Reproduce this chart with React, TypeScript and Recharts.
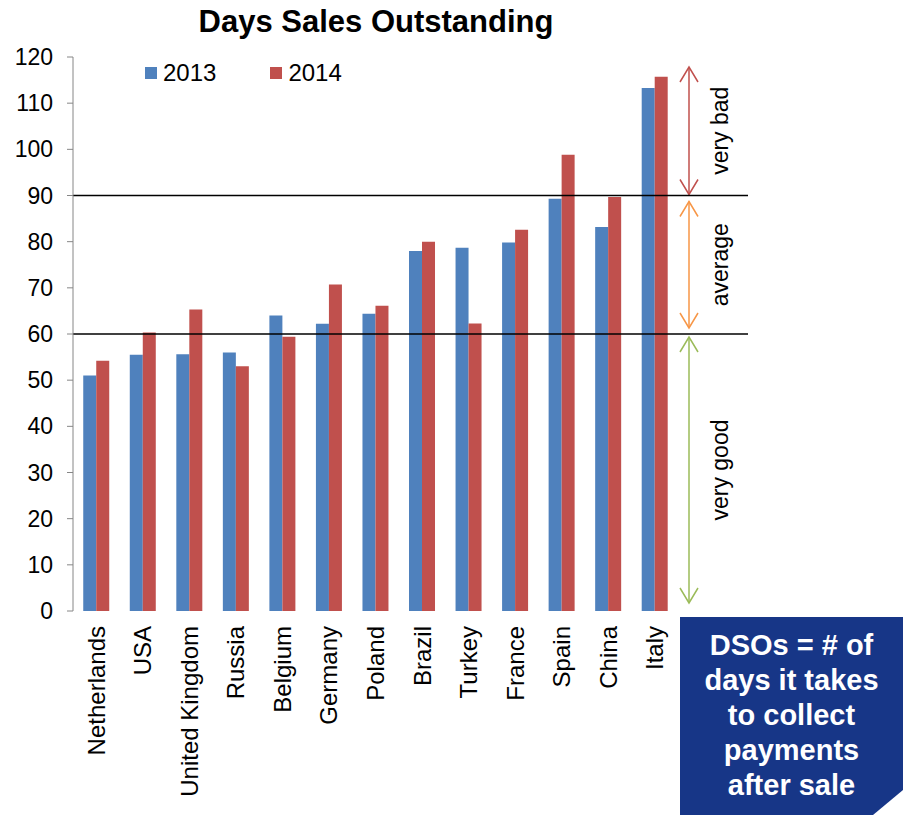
import React from "react";
import { BarChart, Bar, XAxis, YAxis, ReferenceLine, ReferenceArea, Legend } from "recharts";

const countries = [
  "Netherlands", "USA", "United Kingdom", "Russia", "Belgium", "Germany", "Poland",
  "Brazil", "Turkey", "France", "Spain", "China", "Italy",
];
const dso2013 = [51.0, 55.5, 55.6, 56.0, 64.0, 62.2, 64.4, 78.0, 78.7, 79.8, 89.3, 83.2, 113.3];
const dso2014 = [54.2, 60.3, 65.3, 53.0, 59.4, 70.7, 66.1, 80.0, 62.3, 82.6, 98.8, 89.7, 115.7];
const yTicks = [0, 10, 20, 30, 40, 50, 60, 70, 80, 90, 100, 110, 120];
const thresholds = [60, 90];
const zoneFrom = [90, 60, 0];
const zoneTo = [120, 90, 60];
const zoneLabels = ["very bad", "average", "very good"];
const noteLines = ["DSOs = # of", "days it takes", "to collect", "payments", "after sale"];

const data = countries.map((c, i) => ({ country: c, y2013: dso2013[i], y2014: dso2014[i] }));
const edgeTicks = countries.map((_, i) => i).concat(countries.length);

const FONT = '"Liberation Sans", Arial, sans-serif';
const BLUE = "#4F81BD";
const RED = "#C0504D";
const AXIS = "#868686";
const zoneColors = ["#C0504D", "#F79646", "#9BBB59"];
const zoneInsets = [[10, 1], [6, 6], [3, 8]];

const CountryTick = ({ x, y, payload }: any) => (
  <text
    x={x}
    y={y}
    transform={`rotate(-90 ${x} ${y})`}
    textAnchor="end"
    dominantBaseline="central"
    fontSize={24}
    fill="#000"
  >
    {payload.value}
  </text>
);

const LegendContent = ({ payload }: any) => (
  <div style={{ display: "flex", alignItems: "center", fontFamily: FONT, fontSize: 24 }}>
    {(payload || []).map((p: any, i: number) => (
      <div key={p.value} style={{ display: "flex", alignItems: "center", marginLeft: i ? 54 : 0 }}>
        <span style={{ width: 12, height: 12, background: p.color, display: "inline-block" }} />
        <span style={{ marginLeft: 6 }}>{p.value}</span>
      </div>
    ))}
  </div>
);

const ZoneArrow = ({ x, y, width, height, idx }: any) => {
  const color = zoneColors[idx];
  const [t, b] = zoneInsets[idx];
  const ax = x + width + 11;
  const y1 = y + t;
  const y2 = y + height - b;
  const mid = (y1 + y2) / 2;
  const tx = ax + 31;
  return (
    <g>
      <line x1={ax} y1={y1} x2={ax} y2={y2} stroke={color} strokeWidth={1.5} />
      <polyline points={`${ax - 9},${y1 + 15} ${ax},${y1} ${ax + 9},${y1 + 15}`} fill="none" stroke={color} strokeWidth={1.5} />
      <polyline points={`${ax - 9},${y2 - 15} ${ax},${y2} ${ax + 9},${y2 - 15}`} fill="none" stroke={color} strokeWidth={1.5} />
      <text
        x={tx}
        y={mid}
        transform={`rotate(-90 ${tx} ${mid})`}
        textAnchor="middle"
        dominantBaseline="central"
        fontSize={23}
        fill="#000"
      >
        {zoneLabels[idx]}
      </text>
    </g>
  );
};

export default function App() {
  return (
    <div style={{ position: "absolute", left: 0, top: 0, width: 903, height: 815, fontFamily: FONT, background: "#fff" }}>
      <div
        style={{
          position: "absolute", left: 0, top: 6, width: 752, textAlign: "center",
          fontSize: 31, fontWeight: "bold", lineHeight: "31px",
        }}
      >
        Days Sales Outstanding
      </div>
      <BarChart
        width={903}
        height={815}
        data={data}
        margin={{ top: 57, right: 225, bottom: 0, left: 0 }}
        barCategoryGap="22%"
        barGap={0}
      >
        <XAxis
          xAxisId="edges"
          type="number"
          domain={[0, countries.length]}
          ticks={edgeTicks}
          interval={0}
          height={0}
          tickSize={9}
          axisLine={{ stroke: AXIS }}
          tickLine={{ stroke: AXIS }}
          tick={() => <g />}
        />
        <XAxis
          dataKey="country"
          height={204}
          interval={0}
          axisLine={false}
          tickLine={false}
          tickSize={9}
          tickMargin={6}
          tick={<CountryTick />}
        />
        <YAxis
          domain={[0, 120]}
          ticks={yTicks}
          interval={0}
          width={73}
          tickSize={6}
          tickMargin={14}
          axisLine={{ stroke: AXIS }}
          tickLine={{ stroke: AXIS }}
          tick={{ fill: "#000", fontSize: 23 }}
        />
        <Legend
          layout="horizontal"
          verticalAlign="middle"
          align="center"
          wrapperStyle={{ top: 59, left: 145, width: 270 }}
          content={<LegendContent />}
        />
        <Bar dataKey="y2013" name="2013" fill={BLUE} isAnimationActive={false} />
        <Bar dataKey="y2014" name="2014" fill={RED} isAnimationActive={false} />
        {zoneFrom.map((f, i) => (
          <ReferenceArea
            key={zoneLabels[i]}
            y1={f}
            y2={zoneTo[i]}
            shape={(p: any) => <ZoneArrow {...p} idx={i} />}
          />
        ))}
        {thresholds.map((v) => (
          <ReferenceLine
            key={v}
            y={v}
            shape={(p: any) => (
              <line x1={p.x1} y1={p.y1} x2={p.x2 + 70} y2={p.y2} stroke="#000" strokeWidth={1.5} />
            )}
          />
        ))}
      </BarChart>
      <div
        style={{
          position: "absolute", left: 680, top: 617, width: 223, height: 198,
          background: "#173687", color: "#fff", fontWeight: "bold", fontSize: 29,
          lineHeight: "35px", textAlign: "center", paddingTop: 11, boxSizing: "border-box",
          clipPath: "polygon(0 0, 100% 0, 100% 173px, 193px 100%, 0 100%)",
        }}
      >
        {noteLines.map((l) => (
          <div key={l}>{l}</div>
        ))}
      </div>
    </div>
  );
}
